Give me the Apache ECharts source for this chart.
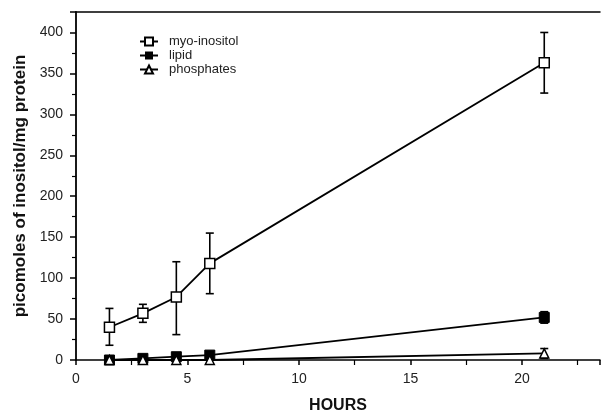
<!DOCTYPE html>
<html>
<head>
<meta charset="utf-8">
<script src="https://cdn.jsdelivr.net/npm/echarts@6/dist/echarts.min.js"></script>
<style>html,body{margin:0;padding:0;background:#fff}#c{width:603px;height:419px}</style>
</head>
<body>
<div id="c"></div>
<script>
var hours = [1.5, 3, 4.5, 6, 21];
var myoInositol = [40, 57, 77, 118, 363];
var myoLow = [18, 46, 31, 81, 326];
var myoHigh = [63, 68, 120, 155, 400];
var lipid = [0, 2, 4, 6, 52];
var lipidLow = [0, 0, 1, 3, 45];
var lipidHigh = [1, 3, 6, 9, 59];
var phosphates = [0, 0, 0, 0, 8];
var phosLow = [0, 0, 0, 0, 2];
var phosHigh = [0, 0, 0, 0, 14];
var xTicks = [0, 5, 10, 15, 20];
var yTicks = [0, 50, 100, 150, 200, 250, 300, 350, 400];

function pairs(xs, ys){ return xs.map(function(x,i){return [x, ys[i]];}); }
function errs(xs, lo, hi){ return xs.map(function(x,i){return [x, lo[i], hi[i]];}); }

function errRender(params, api){
  var x = api.value(0), lo = api.value(1), hi = api.value(2);
  if (hi - lo < 1) return null;
  var p1 = api.coord([x, lo]), p2 = api.coord([x, hi]);
  var w = 4;
  var st = {stroke:'#000', lineWidth:1.6};
  return {type:'group', children:[
    {type:'line', shape:{x1:p1[0],y1:p1[1],x2:p2[0],y2:p2[1]}, style:st},
    {type:'line', shape:{x1:p1[0]-w,y1:p1[1],x2:p1[0]+w,y2:p1[1]}, style:st},
    {type:'line', shape:{x1:p2[0]-w,y1:p2[1],x2:p2[0]+w,y2:p2[1]}, style:st}
  ]};
}

var font = 'Liberation Sans, Arial, sans-serif';
var chart = echarts.init(document.getElementById('c'));
chart.setOption({
  animation:false,
  backgroundColor:'#fff',
  grid:{left:76, right:2, top:12, bottom:57},
  legend:{
    orient:'vertical', left:134, top:30, itemGap:1, itemWidth:18, itemHeight:10,
    textStyle:{fontFamily:font, fontSize:13, color:'#222', padding:[0,0,0,6]},
    data:['myo-inositol','lipid','phosphates']
  },
  xAxis:[{
    type:'value', min:0, max:23.5, interval:5,
    name:'HOURS', nameLocation:'middle', nameGap:38,
    nameTextStyle:{fontFamily:font, fontSize:16, fontWeight:'bold', color:'#111'},
    axisLine:{lineStyle:{color:'#000', width:1.5}},
    axisTick:{inside:false, length:5, lineStyle:{color:'#000', width:1.5}},
    minorTick:{show:true, splitNumber:2, length:5, lineStyle:{color:'#000', width:1.2}},
    splitLine:{show:false},
    axisLabel:{fontFamily:font, fontSize:14, color:'#222', margin:12,
      formatter:function(v){return xTicks.indexOf(v)>=0 ? String(v) : '';}}
  },{
    type:'value', min:0, max:23.5, position:'top',
    axisLine:{show:true, onZero:false, lineStyle:{color:'#000', width:1.5}},
    axisTick:{show:false}, axisLabel:{show:false}, splitLine:{show:false}
  }],
  yAxis:{
    type:'value', min:0, max:425, interval:50,
    name:'picomoles of inositol/mg protein', nameLocation:'middle', nameGap:43,
    nameTextStyle:{fontFamily:font, fontSize:17, fontWeight:'bold', color:'#111'},
    axisLine:{show:true, lineStyle:{color:'#000', width:1.8}},
    axisTick:{length:6, lineStyle:{color:'#000', width:1.5}},
    minorTick:{show:true, splitNumber:2, length:4, lineStyle:{color:'#000', width:1.2}},
    splitLine:{show:false},
    axisLabel:{fontFamily:font, fontSize:14, color:'#222', margin:13,
      formatter:function(v){return yTicks.indexOf(v)>=0 ? String(v) : '';}}
  },
  series:[
    {name:'myo-inositol', type:'line', data:pairs(hours, myoInositol), symbol:'rect', symbolSize:10,
      itemStyle:{color:'#fff', borderColor:'#000', borderWidth:1.5}, lineStyle:{color:'#000', width:1.8}, z:5},
    {name:'lipid', type:'line', data:pairs(hours, lipid), symbol:'rect', symbolSize:10,
      itemStyle:{color:'#000', borderColor:'#000'}, lineStyle:{color:'#000', width:1.8}, z:4},
    {name:'phosphates', type:'line', data:pairs(hours, phosphates), symbol:'triangle', symbolSize:9,
      itemStyle:{color:'#fff', borderColor:'#000', borderWidth:1.5}, lineStyle:{color:'#000', width:1.8}, z:6},
    {type:'custom', renderItem:errRender, data:errs(hours, myoLow, myoHigh), z:3, silent:true},
    {type:'custom', renderItem:errRender, data:errs(hours, lipidLow, lipidHigh), z:3, silent:true},
    {type:'custom', renderItem:errRender, data:errs(hours, phosLow, phosHigh), z:3, silent:true}
  ]
});
</script>
</body>
</html>
